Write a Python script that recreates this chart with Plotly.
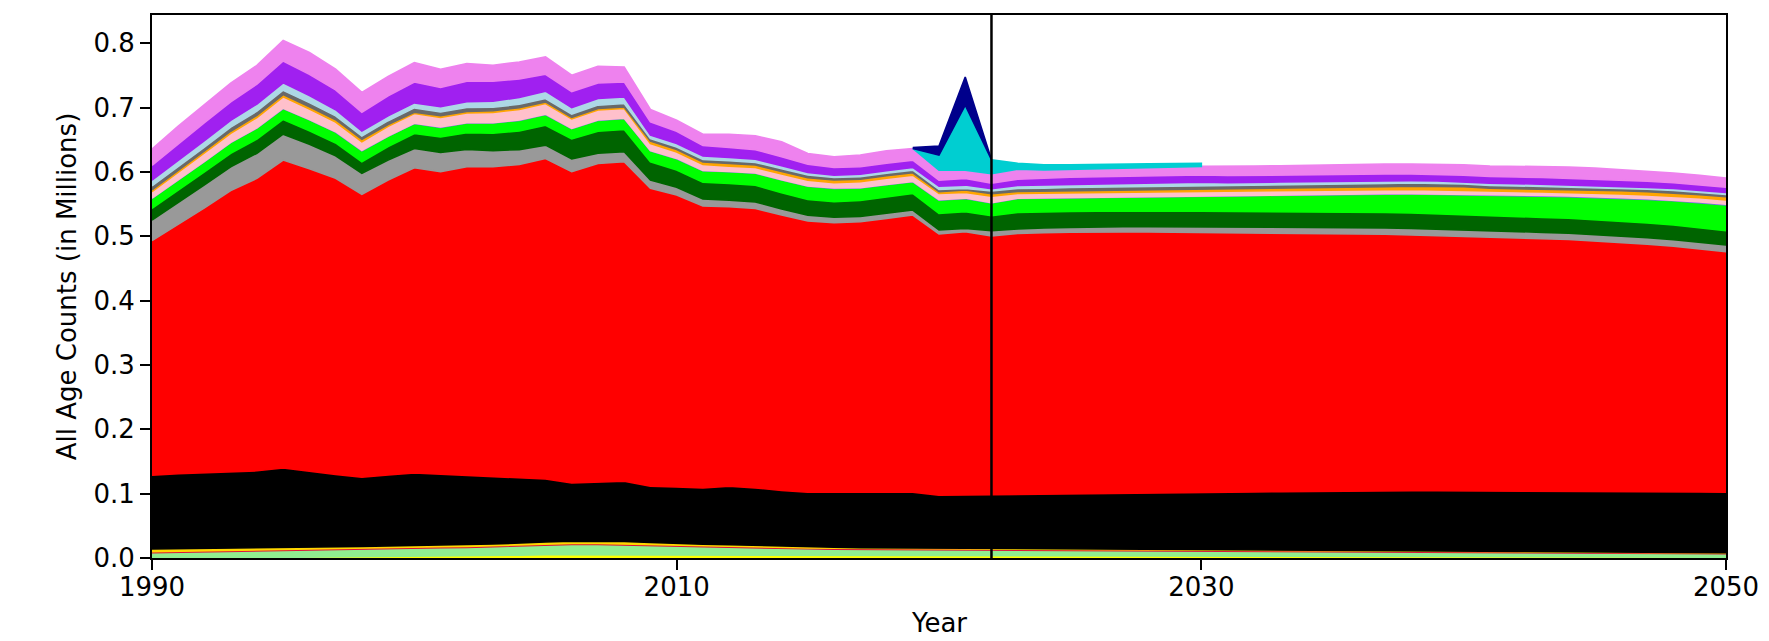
import numpy as np
import plotly.graph_objects as go

years = list(range(1990, 2051))

yellow = [.0008,.0008,.0009,.0009,.0010,.0010,.0011,.0012,.0015,.0020,
          .0025,.0030,.0035,.0040,.0045,.0050,.0052,.0052,.0052,.0051,
          .0050,.0050,.0049,.0048,.0047,.0046,.0045,.0044,.0043,.0042,
          .0041,.0040,.0040,.0039,.0038,.0037,.0036,.0035,.0034,.0033,
          .0032,.0031,.0030,.0029,.0028,.0027,.0026,.0025,.0024,.0023,
          .0022,.0021,.0020,.0019,.0018,.0017,.0016,.0015,.0014,.0013,
          .0012]
lightgreen = [.0075,.0078,.0082,.0088,.0095,.0105,.0110,.0112,.0115,.0122,
              .0128,.0130,.0130,.0132,.0138,.0148,.0158,.0158,.0155,.0142,
              .0132,.0125,.0120,.0112,.0104,.0097,.0092,.0088,.0085,.0082,
              .0079,.0078,.0078,.0078,.0078,.0078,.0078,.0077,.0077,.0077,
              .0077,.0076,.0076,.0075,.0075,.0074,.0073,.0072,.0071,.0069,
              .0068,.0067,.0066,.0065,.0064,.0062,.0061,.0060,.0058,.0057,
              .0056]
crimson = [.0015]*33 + [.0014]*8 + [.0012]*10 + [.0010]*10
gold = [.0042,.0041,.0040,.0038,.0037,.0036,.0035,.0034,.0033,.0032,
        .0030,.0030,.0030,.0031,.0033,.0036,.0038,.0038,.0036,.0032,
        .0027,.0024,.0022,.0020,.0018,.0016,.0015,.0014,.0013,.0013,
        .0012,.0012,.0012,.0011,.0011,.0011,.0011,.0011,.0009,.0009,
        .0009,.0009,.0009,.0009,.0009,.0009,.0007,.0007,.0007,.0007,
        .0007,.0007,.0007,.0007,.0005,.0005,.0005,.0005,.0005,.0005,
        .0005]
black = [.1145,.1168,.1186,.1192,.1198,.1233,.1176,.1127,.1076,.1101,
         .1123,.1091,.1070,.1041,.1014,.0979,.0903,.0917,.0934,.0875,
         .0880,.0875,.0908,.0895,.0866,.0847,.0853,.0861,.0868,.0872,
         .0827,.0827,.0830,.0838,.0844,.0850,.0857,.0864,.0872,.0878,
         .0884,.0893,.0899,.0906,.0912,.0917,.0923,.0927,.0930,.0934,
         .0936,.0939,.0940,.0940,.0942,.0943,.0942,.0941,.0941,.0940,
         .0938]
red = [.3646,.3870,.4108,.4368,.4545,.4784,.4703,.4600,.4397,.4583,
       .4743,.4706,.4800,.4821,.4871,.4981,.4836,.4951,.4965,.4629,
       .4536,.4380,.4345,.4343,.4280,.4216,.4191,.4204,.4254,.4306,
       .4061,.4099,.4029,.4065,.4070,.4073,.4072,.4067,.4060,.4052,
       .4044,.4035,.4026,.4017,.4008,.4001,.3994,.3987,.3978,.3967,
       .3955,.3944,.3932,.3921,.3911,.3893,.3871,.3847,.3819,.3780,
       .3739]
gray = [.0321,.0340,.0360,.0370,.0390,.0403,.0380,.0350,.0326,.0310,
        .0301,.0300,.0270,.0250,.0230,.0207,.0200,.0160,.0155,.0129,
        .0120,.0110,.0103,.0100,.0095,.0090,.0083,.0080,.0078,.0077,
        .0062,.0052,.0083,.0068,.0072,.0075,.0078,.0080,.0082,.0084,
        .0086,.0088,.0090,.0092,.0094,.0096,.0098,.0100,.0101,.0101,
        .0101,.0100,.0099,.0098,.0097,.0098,.0099,.0100,.0101,.0103,
        .0104]
darkgreen = [.0181,.0190,.0200,.0210,.0220,.0229,.0210,.0200,.0181,.0210,
             .0232,.0240,.0260,.0270,.0290,.0310,.0310,.0340,.0347,.0284,
             .0270,.0260,.0260,.0260,.0250,.0245,.0243,.0250,.0255,.0259,
             .0259,.0258,.0232,.0258,.0252,.0247,.0244,.0243,.0243,.0242,
             .0242,.0242,.0241,.0241,.0241,.0240,.0240,.0239,.0238,.0237,
             .0236,.0235,.0234,.0233,.0232,.0231,.0229,.0228,.0226,.0225,
             .0223]
lime = [.0155,.0160,.0160,.0165,.0170,.0170,.0170,.0170,.0171,.0160,
        .0155,.0150,.0150,.0160,.0165,.0166,.0160,.0170,.0171,.0171,
        .0175,.0180,.0180,.0185,.0200,.0205,.0207,.0195,.0188,.0181,
        .0206,.0207,.0198,.0215,.0213,.0212,.0212,.0215,.0220,.0226,
        .0233,.0240,.0247,.0254,.0261,.0268,.0276,.0285,.0295,.0302,
        .0309,.0316,.0323,.0330,.0336,.0345,.0355,.0366,.0377,.0388,
        .0398]
slateblue = [.0005]*46 + [.0006,.0006,.0007,.0007,.0008,.0008,.0009,.0009,
                          .0010,.0010,.0010,.0011,.0011,.0012,.0012]
pink = [.0100,.0120,.0130,.0140,.0160,.0176,.0160,.0150,.0135,.0150,
        .0150,.0150,.0150,.0160,.0165,.0165,.0145,.0155,.0150,.0109,
        .0100,.0090,.0083,.0085,.0086,.0087,.0082,.0090,.0097,.0098,
        .0098,.0088,.0099,.0075,.0070,.0070,.0070,.0070,.0070,.0070,
        .0070,.0065,.0065,.0065,.0065,.0065,.0065,.0065,.0065,.0065,
        .0065,.0055,.0055,.0055,.0055,.0055,.0058,.0060,.0062,.0064,
        .0066]
orange = [.0028,.0030,.0030,.0032,.0034,.0036,.0036,.0036,.0036,.0028,
          .0021,.0025,.0025,.0025,.0026,.0026,.0026,.0025,.0025,.0036,
          .0038,.0040,.0042,.0040,.0042,.0042,.0042,.0040,.0038,.0037,
          .0026,.0037,.0041,.0030,.0035,.0040,.0042,.0045,.0045,.0045,
          .0045,.0045,.0045,.0045,.0045,.0045,.0045,.0045,.0050,.0050,
          .0050,.0045,.0045,.0045,.0045,.0045,.0050,.0050,.0050,.0050,
          .0050]
dimgray = [.0060,.0060,.0062,.0063,.0065,.0067,.0065,.0060,.0052,.0060,
           .0067,.0060,.0060,.0055,.0053,.0052,.0050,.0052,.0052,.0041,
           .0040,.0040,.0041,.0040,.0042,.0042,.0041,.0041,.0041,.0041,
           .0036,.0026,.0041,.0045,.0045,.0045,.0050,.0050,.0050,.0050,
           .0050,.0050,.0050,.0050,.0050,.0050,.0050,.0050,.0050,.0050,
           .0042,.0042,.0042,.0042,.0042,.0037,.0037,.0037,.0037,.0037,
           .0037]
lightblue = [.0090,.0095,.0100,.0105,.0110,.0114,.0110,.0095,.0078,.0077,
             .0077,.0080,.0090,.0095,.0105,.0114,.0100,.0104,.0104,.0052,
             .0052,.0053,.0051,.0050,.0045,.0040,.0036,.0038,.0040,.0041,
             .0052,.0051,.0036,.0050,.0050,.0050,.0050,.0050,.0050,.0050,
             .0050,.0042,.0042,.0042,.0042,.0042,.0042,.0042,.0036,.0036,
             .0036,.0036,.0036,.0036,.0036,.0036,.0030,.0030,.0030,.0030,
             .0030]
purple = [.0232,.0260,.0280,.0290,.0310,.0341,.0330,.0310,.0290,.0310,
          .0326,.0300,.0320,.0310,.0290,.0263,.0250,.0240,.0232,.0207,
          .0190,.0165,.0156,.0148,.0140,.0125,.0119,.0116,.0115,.0114,
          .0093,.0104,.0087,.0095,.0105,.0110,.0114,.0112,.0112,.0111,
          .0110,.0110,.0109,.0108,.0108,.0107,.0106,.0105,.0103,.0103,
          .0103,.0103,.0103,.0103,.0103,.0103,.0098,.0094,.0090,.0086,
          .0083]
violet = [.0250,.0270,.0280,.0290,.0290,.0320,.0340,.0320,.0310,.0300,
          .0301,.0283,.0273,.0247,.0263,.0269,.0254,.0260,.0233,.0191,
          .0174,.0174,.0206,.0215,.0233,.0169,.0166,.0180,.0193,.0181,
          .0155,.0129,.0145,.0155,.0130,.0122,.0119,.0120,.0125,.0130,
          .0135,.0140,.0143,.0146,.0149,.0151,.0153,.0155,.0156,.0158,
          .0160,.0163,.0166,.0169,.0171,.0168,.0163,.0157,.0151,.0146,
          .0140]

cyan_years = list(range(2019, 2031))
cyan = [.0000,.0233,.1008,.0218,.0093,.0080,.0072,.0067,.0062,.0057,.0052,.0047]
navy_years = list(range(2019, 2023))
navy = [.0016,.0140,.0440,.0000]

layers = [
    (yellow, "#ffff00"), (lightgreen, "#90ee90"), (crimson, "#dc143c"),
    (gold, "#ffd700"), (black, "#000000"), (red, "#ff0000"),
    (gray, "#999999"), (darkgreen, "#006400"), (lime, "#00ff00"),
    (slateblue, "#7b68ee"), (pink, "#ffc0cb"), (orange, "#ffa500"),
    (dimgray, "#696969"), (lightblue, "#add8e6"), (purple, "#a020f0"),
    (violet, "#ee82ee"),
]
for vals, _ in layers:
    assert len(vals) == len(years), len(vals)

fig = go.Figure()
base = np.zeros(len(years))


def add_band(xs, lo, hi, color):
    xs = list(xs)
    fig.add_trace(go.Scatter(
        x=xs + xs[::-1], y=list(hi) + list(lo[::-1]),
        mode="lines", fill="toself", fillcolor=color,
        line=dict(color=color, width=1.6), hoverinfo="skip", showlegend=False))


for vals, color in layers:
    top = base + np.array(vals)
    add_band(years, base, top, color)
    base = top

idx = [years.index(y) for y in cyan_years]
c_lo = base[idx]
c_hi = c_lo + np.array(cyan)
add_band(cyan_years, c_lo, c_hi, "#00ced1")
nidx = [cyan_years.index(y) for y in navy_years]
n_lo = c_hi[nidx]
n_hi = n_lo + np.array(navy)
add_band(navy_years, n_lo, n_hi, "#00008b")

fig.add_vline(x=2022, line_color="black", line_width=2.5)

font_family = "DejaVu Sans"
fs = 26
axis_common = dict(showline=True, mirror=True, linecolor="black", linewidth=2,
                   ticks="outside", ticklen=10, tickwidth=2, tickcolor="black",
                   showgrid=False, zeroline=False,
                   tickfont=dict(family=font_family, size=fs, color="black"))
fig.update_layout(
    width=1769, height=641,
    margin=dict(l=152, r=43, t=15, b=83),
    paper_bgcolor="white", plot_bgcolor="white",
    font=dict(family=font_family, size=fs, color="black"),
    xaxis=dict(range=[1990, 2050], tickvals=[1990, 2010, 2030, 2050],
               ticklabelstandoff=-5, automargin=False, **axis_common),
    yaxis=dict(range=[0, 0.8438], tickvals=[0, .1, .2, .3, .4, .5, .6, .7, .8],
               tickformat=".1f",
               title=dict(text="All Age Counts (in Millions)", standoff=9,
                          font=dict(family=font_family, size=fs, color="black")),
               automargin=False, **axis_common),
    annotations=[dict(text="Year", xref="paper", yref="paper", x=0.5, y=-0.1197,
                      xanchor="center", yanchor="middle", showarrow=False,
                      font=dict(family=font_family, size=fs, color="black"))],
)
# remove the browser's default 8px body margin so the figure fills the window
fig.write_html("out.html",
               config={"displayModeBar": False},
               post_script="document.body.style.margin='0';"
                           "document.body.style.overflow='hidden';")
